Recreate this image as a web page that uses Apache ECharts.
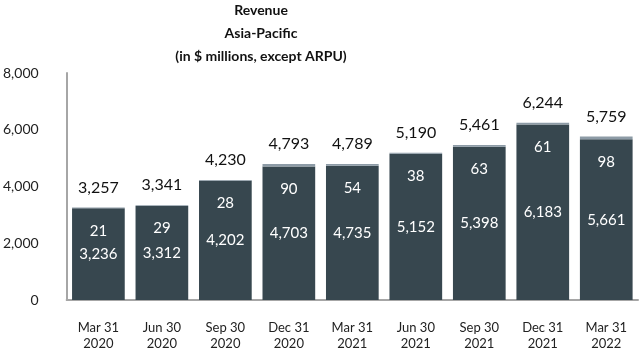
<!DOCTYPE html>
<html>
<head>
<meta charset="utf-8">
<script src="https://cdn.jsdelivr.net/npm/echarts@6/dist/echarts.min.js"></script>
<style>
html, body { margin: 0; padding: 0; background: #fff; }
#chart { width: 640px; height: 352px; }
</style>
</head>
<body>
<div id="chart"></div>
<script>
// quarters
const categories = ["Mar 31\n2020", "Jun 30\n2020", "Sep 30\n2020", "Dec 31\n2020", "Mar 31\n2021", "Jun 30\n2021", "Sep 30\n2021", "Dec 31\n2021", "Mar 31\n2022"];
// streaming revenue (dark part)
const streaming = [3236, 3312, 4202, 4703, 4735, 5152, 5398, 6183, 5661];
// hedging / other part (small cap on top)
const other = [21, 29, 28, 90, 54, 38, 63, 61, 98];
// totals shown above bars
const totals = [3257, 3341, 4230, 4793, 4789, 5190, 5461, 6244, 5759];
const yTicks = [0, 2000, 4000, 6000, 8000];

const fmt = v => v.toLocaleString("en-US");
const font = "Lato, 'Open Sans', sans-serif";

let myChart = echarts.init(document.getElementById("chart"));
let option = {
	animation: false,
	title: {
		text: "Revenue\nAsia-Pacific\n(in $ millions, except ARPU)",
		left: 256,
		top: -6,
		textAlign: "center",
		textStyle: {
			fontFamily: font,
			fontSize: 14,
			fontWeight: "bold",
			color: "#111",
			lineHeight: 23,
		},
	},
	grid: {
		left: 65,
		right: 2,
		top: 73,
		bottom: 52,
		containLabel: false,
	},
	xAxis: {
		type: "category",
		data: categories,
		axisLine: { lineStyle: { color: "#a6a6a6", width: 2 } },
		axisTick: { show: false },
		axisLabel: {
			interval: 0,
			margin: 20,
			fontFamily: font,
			fontSize: 13,
			lineHeight: 16,
			color: "#222",
		},
	},
	yAxis: {
		type: "value",
		min: yTicks[0],
		max: yTicks[yTicks.length - 1],
		interval: 2000,
		axisLine: { show: true, lineStyle: { color: "#a6a6a6", width: 2 } },
		axisTick: { show: false },
		splitLine: { show: false },
		axisLabel: {
			margin: 28,
			fontFamily: font,
			fontSize: 14,
			color: "#222",
			formatter: v => fmt(v),
		},
	},
	series: [
		{
			name: "streaming",
			type: "bar",
			stack: "rev",
			barWidth: "83%",
			data: streaming,
			itemStyle: { color: "#37474f" },
			label: {
				show: true,
				position: "inside",
				fontFamily: font,
				fontSize: 15,
				color: "#fff",
				formatter: p => fmt(p.value),
			},
		},
		{
			name: "other",
			type: "bar",
			stack: "rev",
			data: other,
			itemStyle: { color: "#8d9ba6" },
			label: {
				show: true,
				position: "bottom",
				distance: 15,
				fontFamily: font,
				fontSize: 15,
				color: "#fff",
				formatter: p => fmt(p.value),
			},
		},
		{
			name: "total",
			type: "bar",
			stack: "rev",
			data: totals.map(() => 0),
			itemStyle: { color: "transparent" },
			label: {
				show: true,
				position: "top",
				distance: 12,
				fontFamily: font,
				fontSize: 16,
				color: "#111",
				formatter: p => fmt(totals[p.dataIndex]),
			},
		},
	],
};
myChart.setOption(option);
</script>
</body>
</html>
